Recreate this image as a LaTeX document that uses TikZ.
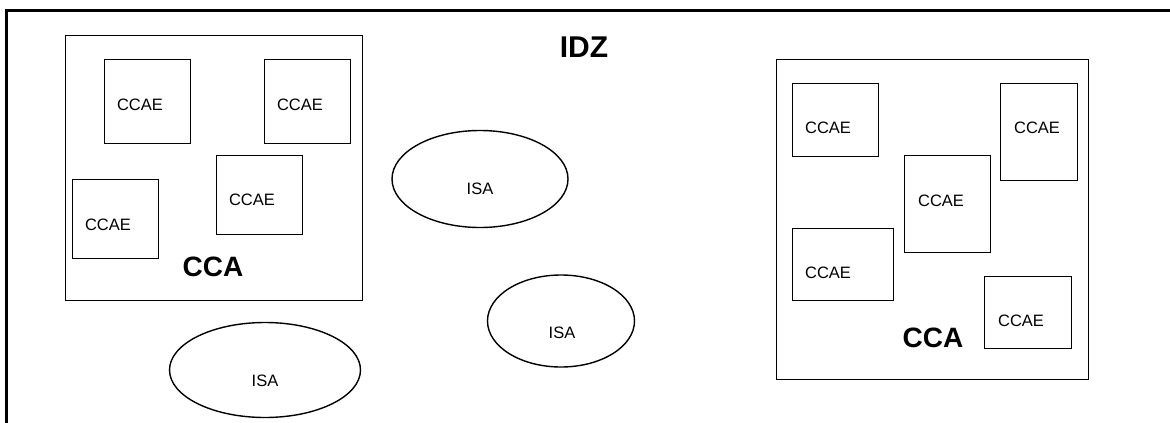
\documentclass[tikz,border=0pt]{standalone}
\usepackage{fontspec}
\setmainfont{Liberation Sans}
\usetikzlibrary{shapes.geometric}
\begin{document}
\begin{tikzpicture}[x=1pt,y=-1pt,
  box/.style={draw,line width=1.4pt,rectangle,inner sep=0pt,anchor=north west},
  isa/.style={draw,line width=1.4pt,ellipse,inner sep=0pt},
  small/.style={font=\fontsize{16.5}{19}\selectfont,inner sep=0pt},
  big/.style={font=\fontsize{30}{34}\selectfont\bfseries,inner sep=0pt},
  mid/.style={font=\fontsize{28}{32}\selectfont\bfseries,inner sep=0pt}]
\useasboundingbox (0,0) rectangle (1170,423);
\fill[white] (0,0) rectangle (1170,423);
\begin{scope}
\clip (0,0) rectangle (1170,423);
\coordinate (fbl) at (6,440);
\coordinate (ftl) at (6,10);
\coordinate (ftr) at (1190,10);
\draw[line width=3pt] (fbl) -- (ftl) -- (ftr);
\end{scope}
\node[big] (idz) at (584,47) {IDZ};
% left CCA
\node[box,minimum width=297,minimum height=265] (ccaL) at (65,35) {};
\node[mid] (ccaLt) at (213,267) {CCA};
\node[box,minimum width=86,minimum height=84] (e1) at (104,59) {};
\node[small] at (140,105) {CCAE};
\node[box,minimum width=86,minimum height=84] (e2) at (264,59) {};
\node[small] at (300,105) {CCAE};
\node[box,minimum width=86,minimum height=79] (e3) at (72,179) {};
\node[small] at (108,225) {CCAE};
\node[box,minimum width=86,minimum height=79] (e4) at (216,155) {};
\node[small] at (252,200) {CCAE};
% ellipses
\node[isa,minimum width=176,minimum height=97] (i1) at (480,179) {};
\node[small] at (480,189) {ISA};
\node[isa,minimum width=147,minimum height=92] (i2) at (561,321) {};
\node[small] at (562,333) {ISA};
\node[isa,minimum width=191,minimum height=95] (i3) at (265,370) {};
\node[small] at (265,381) {ISA};
% right CCA
\node[box,minimum width=312,minimum height=320] (ccaR) at (776,59) {};
\node[mid] (ccaRt) at (933,338) {CCA};
\node[box,minimum width=86,minimum height=73] (f1) at (792,83) {};
\node[small] at (828,128) {CCAE};
\node[box,minimum width=77,minimum height=97] (f2) at (1000,83) {};
\node[small] at (1037,128) {CCAE};
\node[box,minimum width=86,minimum height=97] (f3) at (904,155) {};
\node[small] at (941,201) {CCAE};
\node[box,minimum width=101,minimum height=72] (f4) at (792,228) {};
\node[small] at (828,273) {CCAE};
\node[box,minimum width=87,minimum height=72] (f5) at (984,276) {};
\node[small] at (1021,321) {CCAE};
\end{tikzpicture}
\end{document}
